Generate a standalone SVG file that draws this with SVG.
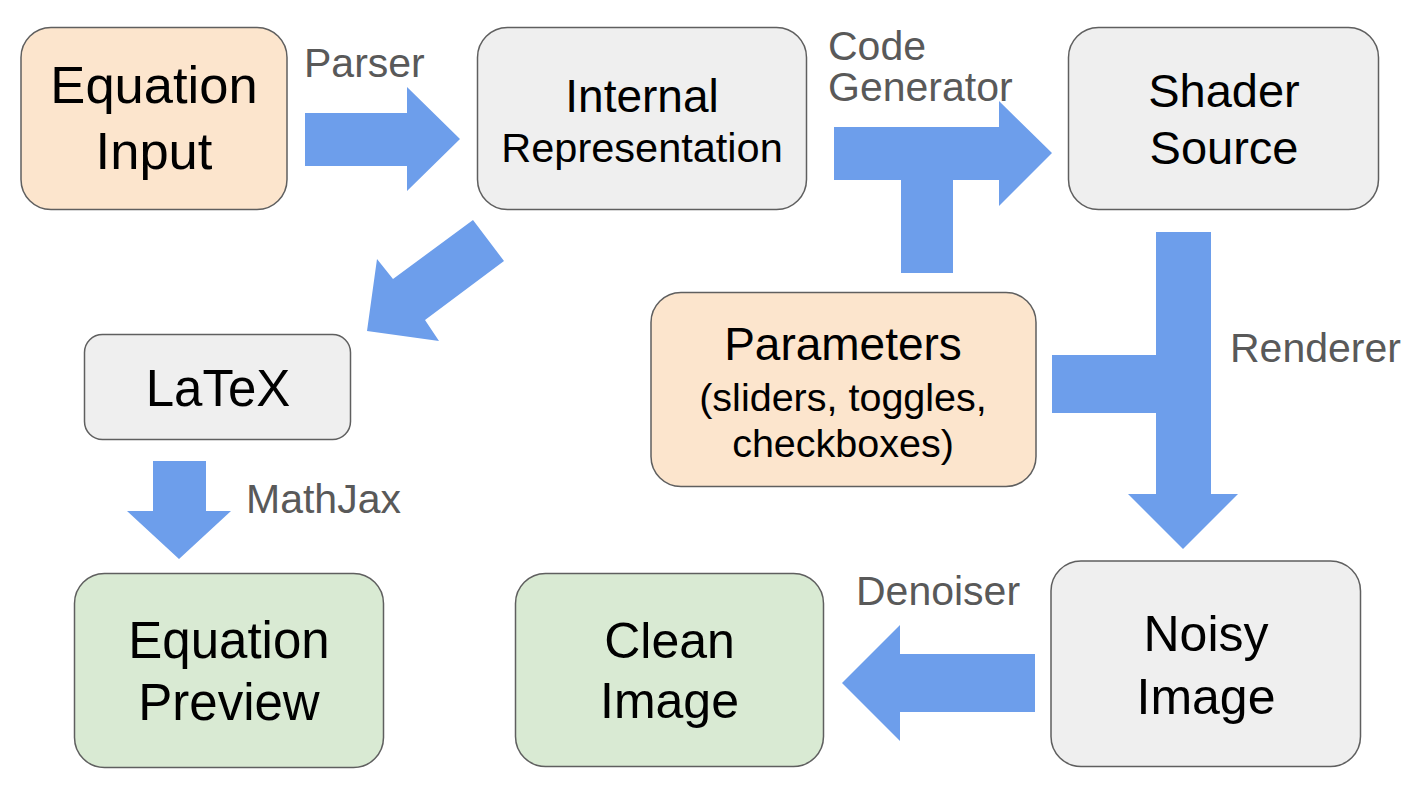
<svg xmlns="http://www.w3.org/2000/svg" width="1426" height="791" viewBox="0 0 1426 791">
<style>
.box{stroke:#5f5f5f;stroke-width:1.5}
.gray{fill:#efefef}
.orange{fill:#fce5cd}
.green{fill:#d9ead3}
.t{font-family:"Liberation Sans",Arial,sans-serif;fill:#000;text-anchor:middle}
.lbl{font-family:"Liberation Sans",Arial,sans-serif;fill:#595959;font-size:41px}
.arrow{fill:#6d9eeb}
</style>
<rect width="1426" height="791" fill="#fff"/>
<g id="connectors">
<polygon class="arrow" points="305,113 407,113 407,87 460,139 407,191 407,166 305,166"/>
<polygon class="arrow" points="834,127 999,127 999,101 1052,153 999,206 999,180 953,180 953,273 901,273 901,180 834,180"/>
<polygon class="arrow" points="473,220 504,261 425,320 439,341 367,331 377,259 393,279"/>
<polygon class="arrow" points="1156,232 1211,232 1211,494 1238,494 1183,549 1128,494 1156,494 1156,413 1052,413 1052,355 1156,355"/>
<polygon class="arrow" points="1035,654 900,654 900,625 842,683 900,741 900,712 1035,712"/>
<polygon class="arrow" points="153,461 206,461 206,511 231,511 179,559 127,511 153,511"/>
<text class="lbl" x="304" y="77">Parser</text>
<text class="lbl" x="828" y="60">Code</text>
<text class="lbl" x="828" y="101">Generator</text>
<text class="lbl" x="1230" y="362">Renderer</text>
<text class="lbl" x="246" y="513">MathJax</text>
<text class="lbl" x="856" y="605">Denoiser</text>
</g>
<g id="equation-input">
<rect class="box orange" x="21" y="27.5" width="266" height="182" rx="30"/>
<text class="t" x="154" y="103" font-size="52.5">Equation</text>
<text class="t" x="154" y="169" font-size="52.5">Input</text>
</g>
<g id="internal-representation">
<rect class="box gray" x="477.5" y="27.5" width="329" height="182" rx="30"/>
<text class="t" x="642" y="112" font-size="46">Internal</text>
<text class="t" x="642" y="162" font-size="41.5">Representation</text>
</g>
<g id="shader-source">
<rect class="box gray" x="1068.5" y="27.5" width="310" height="182" rx="30"/>
<text class="t" x="1224" y="107" font-size="47">Shader</text>
<text class="t" x="1224" y="164" font-size="47">Source</text>
</g>
<g id="latex">
<rect class="box gray" x="84.5" y="334.5" width="266" height="105" rx="18"/>
<text class="t" x="218" y="406" font-size="51">LaTeX</text>
</g>
<g id="parameters">
<rect class="box orange" x="651" y="292.5" width="385" height="194" rx="30"/>
<text class="t" x="843" y="360" font-size="46">Parameters</text>
<text class="t" x="843" y="411" font-size="39.5">(sliders, toggles,</text>
<text class="t" x="843" y="457" font-size="39.5">checkboxes)</text>
</g>
<g id="equation-preview">
<rect class="box green" x="74.5" y="573.5" width="309" height="194" rx="30"/>
<text class="t" x="229" y="658" font-size="51">Equation</text>
<text class="t" x="229" y="720" font-size="51">Preview</text>
</g>
<g id="clean-image">
<rect class="box green" x="515.5" y="573.5" width="308" height="193" rx="30"/>
<text class="t" x="669.5" y="658" font-size="50">Clean</text>
<text class="t" x="669.5" y="718" font-size="50">Image</text>
</g>
<g id="noisy-image">
<rect class="box gray" x="1051" y="561" width="309.5" height="205.5" rx="30"/>
<text class="t" x="1206" y="651" font-size="50">Noisy</text>
<text class="t" x="1206" y="714" font-size="50">Image</text>
</g>
</svg>
